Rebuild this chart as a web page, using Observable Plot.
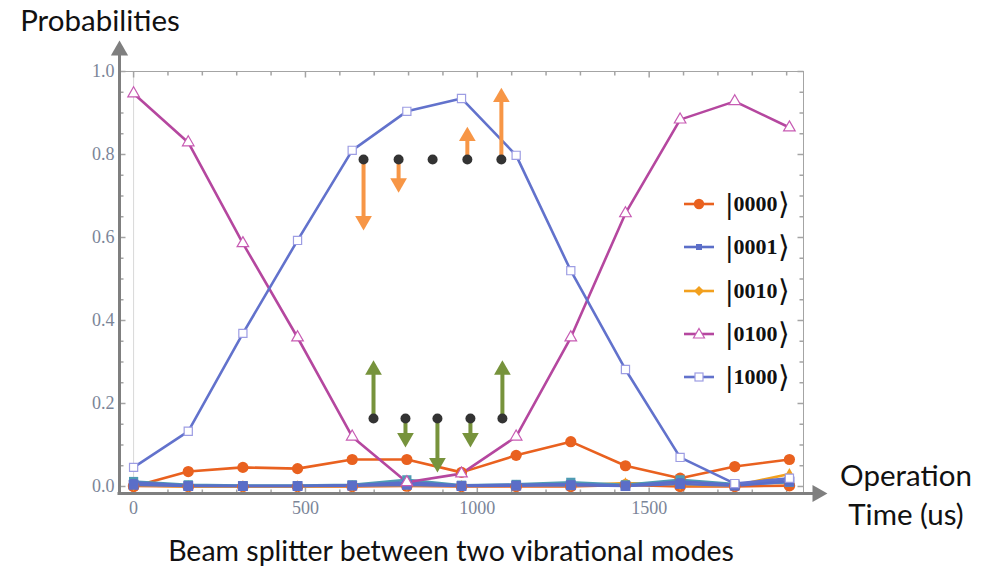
<!DOCTYPE html>
<html><head><meta charset="utf-8">
<script src="https://cdn.jsdelivr.net/npm/d3@7"></script>
<script src="https://cdn.jsdelivr.net/npm/@observablehq/plot@0.6"></script>
<style>
body{margin:0;background:#fff;}
#wrap{position:relative;width:991px;height:570px;overflow:hidden;background:#fff;}
.lbl{position:absolute;font-family:Lato,"Open Sans",sans-serif;color:#111;white-space:nowrap;transform:translate(-50%,-50%);line-height:1;}
.leg{position:absolute;display:flex;align-items:center;transform:translateY(-50%);}
.ket{font-family:"Liberation Serif",serif;font-weight:bold;font-size:22px;color:#111;margin-left:12px;display:flex;align-items:center;line-height:1;}
.ket .br{font-size:30px;font-weight:normal;}
.ket .br.l{font-weight:bold;margin-right:1px;}
</style></head><body><div id="wrap"></div>
<script>
// ---- data ----
const times = [0,159,318,477,636,795,954,1113,1272,1431,1590,1749,1908];
const p0000 = [0.000,0.036,0.046,0.043,0.065,0.065,0.034,0.075,0.108,0.050,0.020,0.048,0.065];
const p0001 = [0.010,0.002,0.001,0.001,0.003,0.010,0.002,0.004,0.006,0.002,0.012,0.004,0.018];
const p0010 = [0.003,0.000,0.000,0.000,0.001,0.003,0.001,0.002,0.002,0.008,0.004,0.002,0.030];
const p0100 = [0.947,0.829,0.586,0.359,0.120,0.010,0.031,0.120,0.359,0.658,0.884,0.928,0.865];
const p1000 = [0.046,0.133,0.369,0.593,0.810,0.904,0.935,0.798,0.520,0.282,0.070,0.007,0.020];
const pOtherA = [0.001,0.000,0.000,0.000,0.000,0.001,0.000,0.000,0.000,0.004,0.000,0.000,0.002];
const pOtherB = [0.012,0.004,0.002,0.002,0.004,0.016,0.003,0.005,0.010,0.004,0.016,0.006,0.010];
const pOtherC = [0.004,0.001,0.001,0.001,0.002,0.004,0.001,0.002,0.003,0.001,0.006,0.002,0.012];
const stateNames = ["|0000⟩","|0001⟩","|0010⟩","|0100⟩","|1000⟩"];

const yTicks = [0,0.2,0.4,0.6,0.8,1.0];
const yMinor = [0.05,0.1,0.15,0.25,0.3,0.35,0.45,0.5,0.55,0.65,0.7,0.75,0.85,0.9,0.95];
const xTicks = [0,500,1000,1500];
const xMinor = [100,200,300,400,600,700,800,900,1100,1200,1300,1400,1600,1700,1800,1900];

// annotation: black dots with orange/green arrows
const orangeDotX = [669,771,870,971,1070];
const orangeDotY = 0.788;
const orangeTip = [0.617,0.708,null,0.867,0.961];
const greenDotX = [698,791,884,980,1073];
const greenDotY = 0.164;
const greenTip = [0.304,0.094,0.034,0.094,0.304];

// ---- styles ----
const styles = [
  {name: "otherA", vals: pOtherA, color:"#E9611F", sym:"circle", r:5.8, fill:"#E9611F", mstroke:"none"},
  {name: stateNames[0], vals: p0000, color:"#E9611F", sym:"circle", r:5.6, fill:"#E9611F", mstroke:"none"},
  {name: stateNames[2], vals: p0010, color:"#F2A01E", sym:"diamond", r:3.6, fill:"#F2A01E", mstroke:"none"},
  {name: "otherB", vals: pOtherB, color:"#4E9BB3", sym:"square", r:5.2, fill:"#4E9BB3", mstroke:"none"},
  {name: "otherC", vals: pOtherC, color:"#5B6EC8", sym:"square", r:5.6, fill:"#5B6EC8", mstroke:"none"},
  {name: stateNames[1], vals: p0001, color:"#5B6EC8", sym:"square", r:3.8, fill:"#5B6EC8", mstroke:"none"},
  {name: stateNames[3], vals: p0100, color:"#B5479F", sym:"triangle", r:4.3, fill:"white", mstroke:"#C75BB3"},
  {name: stateNames[4], vals: p1000, color:"#6272CC", sym:"square", r:4.6, fill:"white", mstroke:"#9D9DE3"}
];

const rows = [];
styles.forEach(s => s.vals.forEach((v,i) => rows.push({t: times[i], p: v, s: s.name})));

const arrows = [];
orangeDotX.forEach((x,i) => { if (orangeTip[i] != null) arrows.push({x, dot: orangeDotY, tip: orangeTip[i], color:"#F79646"}); });
greenDotX.forEach((x,i) => arrows.push({x, dot: greenDotY, tip: greenTip[i], color:"#77933C"}));
const upA = arrows.filter(a => a.tip > a.dot);
const downA = arrows.filter(a => a.tip < a.dot);
const blackDots = orangeDotX.map(x => ({x, y: orangeDotY})).concat(greenDotX.map(x => ({x, y: greenDotY})));

const tickSym = (dx, dy) => ({draw(ctx){ ctx.moveTo(0,0); ctx.lineTo(dx,dy); }});
const frameC = "#a4a4a4";
const labC = "#7b8598";
const arrowC = "#7f7f7f";

const seriesMarks = [];
styles.forEach(s => {
  const d = rows.filter(r => r.s === s.name);
  seriesMarks.push(Plot.line(d, {x:"t", y:"p", stroke: s.color, strokeWidth: 2.6, strokeLinejoin:"round"}));
});
styles.forEach(s => {
  const d = rows.filter(r => r.s === s.name);
  seriesMarks.push(Plot.dot(d, {x:"t", y:"p", symbol: s.sym, r: s.r, fill: s.fill, stroke: s.mstroke, strokeWidth: 1.2}));
});

const chart = Plot.plot({
  width: 991, height: 570,
  marginLeft: 119, marginRight: 188, marginTop: 71, marginBottom: 77,
  x: {domain: [-41, 1949], axis: null},
  y: {domain: [-0.0169, 1.0], axis: null},
  style: {background: "white", fontSize: "18px", fontFamily: "'Liberation Serif', serif"},
  marks: [
    Plot.ruleX([0], {stroke: "#d8d8d8", strokeWidth: 1}),
    Plot.frame({stroke: frameC}),
    // frame ticks
    Plot.dot(yTicks, {y: d => d, frameAnchor: "left", symbol: tickSym(6,0), stroke: frameC, fill: "none"}),
    Plot.dot(yMinor, {y: d => d, frameAnchor: "left", symbol: tickSym(4,0), stroke: frameC, fill: "none"}),
    Plot.dot(yTicks, {y: d => d, frameAnchor: "right", symbol: tickSym(-6,0), stroke: frameC, fill: "none"}),
    Plot.dot(yMinor, {y: d => d, frameAnchor: "right", symbol: tickSym(-4,0), stroke: frameC, fill: "none"}),
    Plot.dot(xTicks, {x: d => d, frameAnchor: "bottom", symbol: tickSym(0,-6), stroke: frameC, fill: "none"}),
    Plot.dot(xMinor, {x: d => d, frameAnchor: "bottom", symbol: tickSym(0,-4), stroke: frameC, fill: "none"}),
    Plot.dot(xTicks, {x: d => d, frameAnchor: "top", symbol: tickSym(0,6), stroke: frameC, fill: "none"}),
    Plot.dot(xMinor, {x: d => d, frameAnchor: "top", symbol: tickSym(0,4), stroke: frameC, fill: "none"}),
    Plot.axisY(yTicks, {anchor: "left", tickSize: 0, tickPadding: 5, tickFormat: d => d.toFixed(1), fill: labC, fontSize: 18, label: null}),
    Plot.axisX(xTicks, {anchor: "bottom", tickSize: 0, tickPadding: 8, tickFormat: d => String(d), fill: labC, fontSize: 18, label: null}),
    ...seriesMarks,
    // annotation arrows
    Plot.ruleX(upA, {x: "x", y1: "tip", y2: "dot", stroke: "color", strokeWidth: 4, insetTop: 12}),
    Plot.ruleX(downA, {x: "x", y1: "dot", y2: "tip", stroke: "color", strokeWidth: 4, insetBottom: 12}),
    Plot.dot(upA, {x: "x", y: "tip", symbol: "triangle", r: 6.2, fill: "color", stroke: "none", dy: 9.6}),
    Plot.dot(downA, {x: "x", y: "tip", symbol: "triangle", r: 6.2, fill: "color", stroke: "none", rotate: 180, dy: -9.6}),
    Plot.dot(blackDots, {x: "x", y: "y", r: 5, fill: "#333333", stroke: "none"}),
    // gray axis arrows
    Plot.ruleX([-41], {stroke: arrowC, strokeWidth: 3, insetTop: -16, insetBottom: -1.5}),
    Plot.dot([0], {frameAnchor: "top-left", symbol: "triangle", r: 6.4, fill: arrowC, stroke: "none", dy: -21}),
    Plot.ruleY([-0.0169], {stroke: arrowC, strokeWidth: 3, insetRight: -10, insetLeft: -1.5}),
    Plot.dot([0], {frameAnchor: "bottom-right", symbol: "triangle", r: 6.4, fill: arrowC, stroke: "none", rotate: 90, dx: 14})
  ]
});

const wrap = document.getElementById("wrap");
wrap.appendChild(chart);
chart.style.position = "absolute"; chart.style.left = "0"; chart.style.top = "0";

function addLabel(text, cx, cy, size) {
  const d = document.createElement("div");
  d.className = "lbl"; d.textContent = text;
  d.style.left = cx + "px"; d.style.top = cy + "px"; d.style.fontSize = size + "px";
  wrap.appendChild(d);
}
addLabel("Probabilities", 100, 20, 29.5);
addLabel("Operation", 906, 475, 29.5);
addLabel("Time (us)", 906, 514, 29.5);
addLabel("Beam splitter between two vibrational modes", 451, 550, 28.5);

// legend
const byName = n => styles.find(s => s.name === n);
const legendOrder = stateNames.map(byName);
function markerSvg(s) {
  const cx = 15, cy = 12;
  let m = "";
  if (s.sym === "circle") m = `<circle cx="${cx}" cy="${cy}" r="5.2" fill="${s.fill}"/>`;
  else if (s.sym === "diamond") m = `<polygon points="${cx},${cy-5} ${cx+5},${cy} ${cx},${cy+5} ${cx-5},${cy}" fill="${s.fill}"/>`;
  else if (s.sym === "triangle") m = `<polygon points="${cx},${cy-5.5} ${cx+5.5},${cy+4} ${cx-5.5},${cy+4}" fill="${s.fill}" stroke="${s.mstroke}" stroke-width="1.2"/>`;
  else if (s.fill === "white") m = `<rect x="${cx-4}" y="${cy-4}" width="8" height="8" fill="white" stroke="${s.mstroke}" stroke-width="1.2"/>`;
  else m = `<rect x="${cx-3}" y="${cy-3}" width="6" height="6" fill="${s.fill}"/>`;
  return `<svg width="30" height="24"><line x1="0" y1="${cy}" x2="30" y2="${cy}" stroke="${s.color}" stroke-width="2.6"/>${m}</svg>`;
}
legendOrder.forEach((s, i) => {
  const row = document.createElement("div");
  row.className = "leg";
  row.style.left = "684px";
  row.style.top = (204 + i * 43.3) + "px";
  const digits = s.name.slice(1, -1);
  row.innerHTML = markerSvg(s) + `<span class="ket"><span class="br l">|</span>${digits}<span class="br">⟩</span></span>`;
  wrap.appendChild(row);
});
</script></body></html>
